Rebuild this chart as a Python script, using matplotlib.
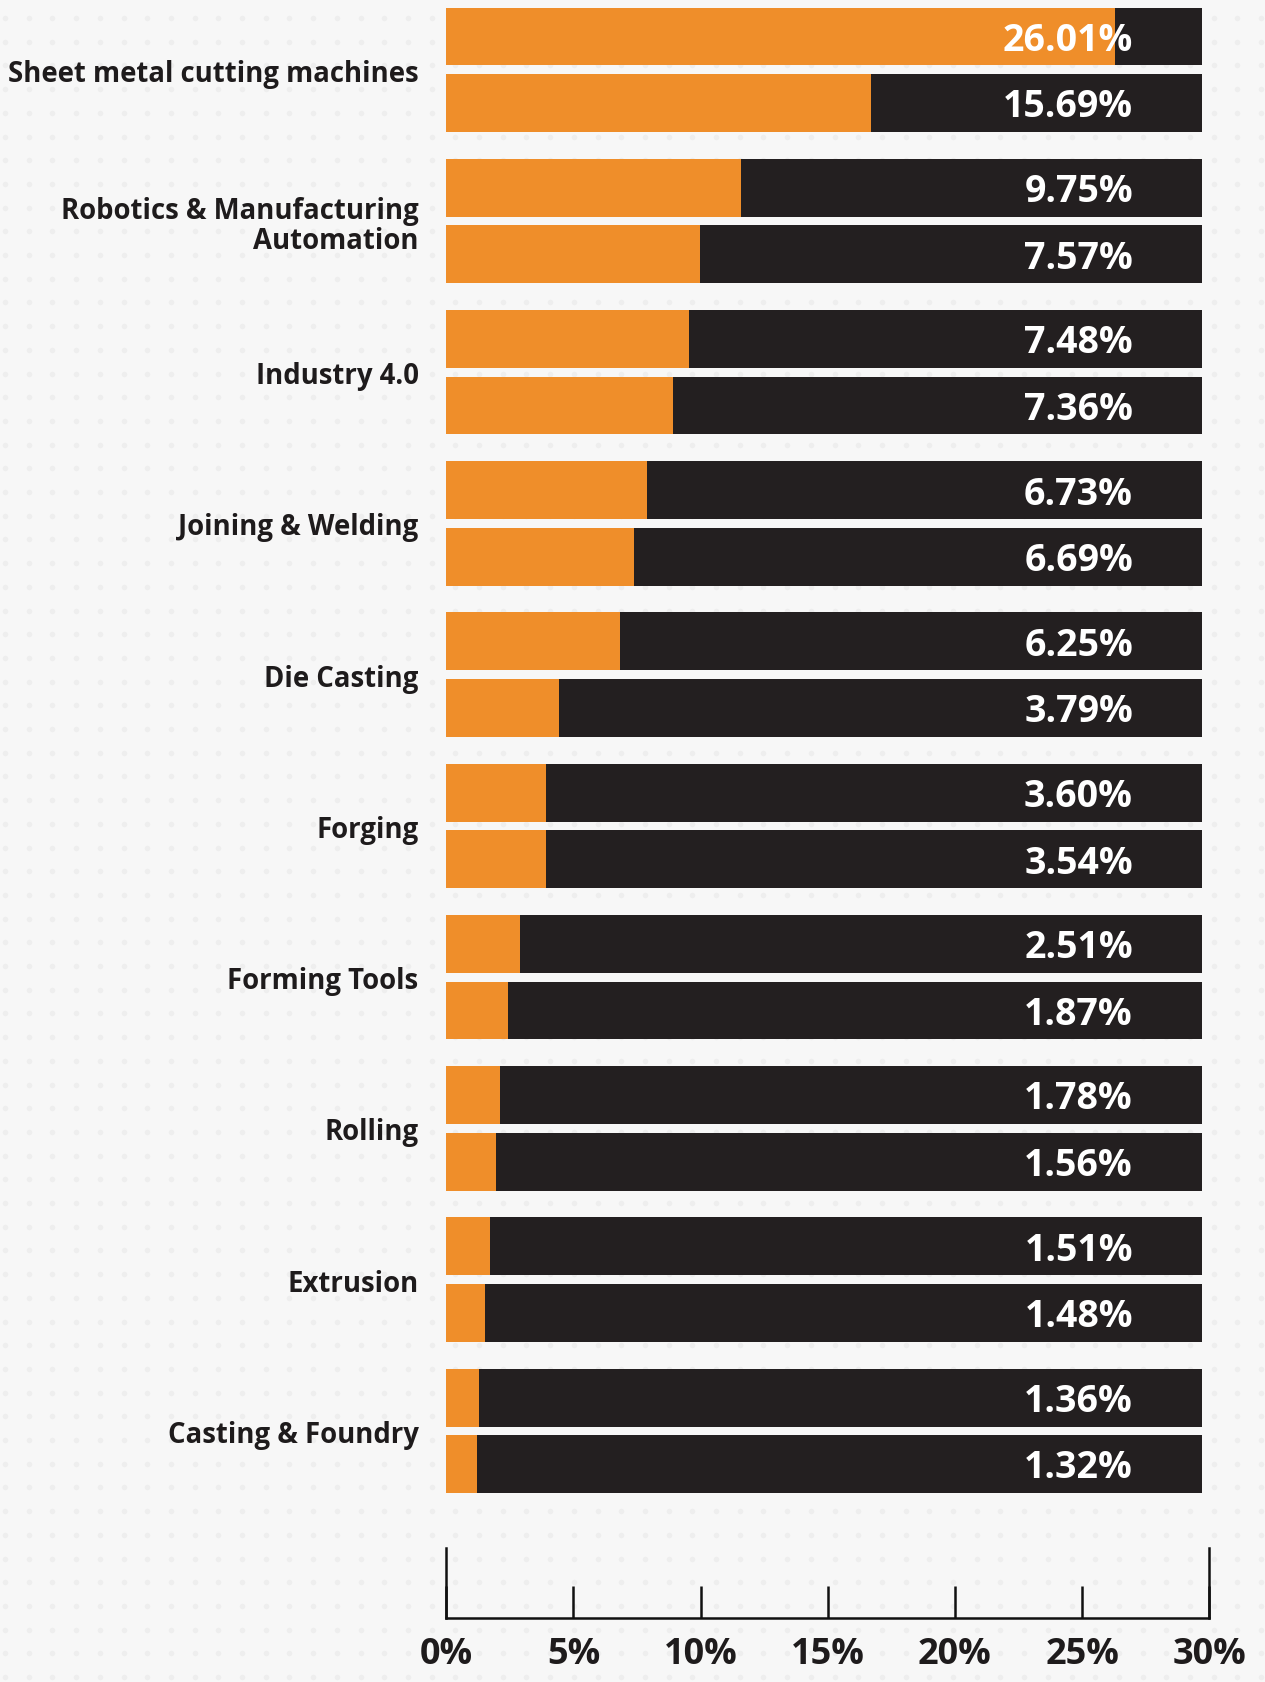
import matplotlib
matplotlib.use("Agg")
import matplotlib.pyplot as plt
import numpy as np

# ---- data ----
categories = [
    "Sheet metal cutting machines",
    "Robotics & Manufacturing\nAutomation",
    "Industry 4.0",
    "Joining & Welding",
    "Die Casting",
    "Forging",
    "Forming Tools",
    "Rolling",
    "Extrusion",
    "Casting & Foundry",
]
# printed values (upper bar, lower bar) per category
values_top = [26.01, 9.75, 7.48, 6.73, 6.25, 3.60, 2.51, 1.78, 1.51, 1.36]
values_bottom = [15.69, 7.57, 7.36, 6.69, 3.79, 3.54, 1.87, 1.56, 1.48, 1.32]
# orange bar lengths as drawn in the picture (in % on the axis scale)
drawn_top = [26.29, 11.60, 9.54, 7.89, 6.84, 3.92, 2.91, 2.11, 1.73, 1.27]
drawn_bottom = [16.71, 9.96, 8.90, 7.38, 4.43, 3.92, 2.41, 1.94, 1.52, 1.20]
track_length = 29.7
x_ticks = [0, 5, 10, 15, 20, 25, 30]
x_tick_labels = ["0%", "5%", "10%", "15%", "20%", "25%", "30%"]

ORANGE = "#EF8E2A"
DARK = "#231F20"
TEXT = "#1E1B1C"
BG = "#F7F7F7"
FONT = ["Open Sans", "DejaVu Sans"]

W, H = 1179.0, 1568.0  # layout reference units

fig = plt.figure(figsize=(12.65, 16.83), dpi=100, facecolor=BG)

# background dot pattern
bg = fig.add_axes([0, 0, 1, 1], zorder=-10)
bg.set_xlim(0, 1265)
bg.set_ylim(0, 1683)
bg.axis("off")
gx, gy = np.meshgrid(np.arange(5, 1265, 23.7), np.arange(5, 1683, 23.7))
bg.scatter(gx.ravel(), gy.ravel(), s=16, color="#EEEEEE", linewidths=0)

# bars axes
ax = fig.add_axes([416 / W, 1 - 1400 / H, 711 / W, 1400 / H])
ax.set_facecolor("none")
ax.set_xlim(0, 30)
ax.set_ylim(9.468, -0.468)
for s in ax.spines.values():
    s.set_visible(False)

n = len(categories)
y = np.arange(n)
off = 0.22
h = 0.383
ax.barh(y - off, [track_length] * n, height=h, color=DARK, zorder=1)
ax.barh(y + off, [track_length] * n, height=h, color=DARK, zorder=1)
ax.barh(y - off, drawn_top, height=h, color=ORANGE, zorder=2)
ax.barh(y + off, drawn_bottom, height=h, color=ORANGE, zorder=2)

dy = 0.022
for i in range(n):
    ax.text(27.0, y[i] - off + dy, f"{values_top[i]:.2f}%", ha="right", va="center",
            color="white", fontsize=27, fontweight="bold", family=FONT, zorder=3)
    ax.text(27.0, y[i] + off + dy, f"{values_bottom[i]:.2f}%", ha="right", va="center",
            color="white", fontsize=27, fontweight="bold", family=FONT, zorder=3)

ax.set_xticks([])
ax.set_yticks(y)
ax.set_yticklabels(categories, fontsize=19.8, fontweight="bold", family=FONT,
                   color=TEXT, linespacing=1.05)
ax.tick_params(axis="y", length=0, pad=20)

# bottom scale axes
sx = fig.add_axes([416 / W, 1 - 1508 / H, 711 / W, 65 / H])
sx.set_facecolor("none")
sx.set_xlim(0, 30)
sx.set_ylim(0, 1)
sx.spines["top"].set_visible(False)
for k in ["left", "right", "bottom"]:
    sx.spines[k].set_linewidth(1.8)
    sx.spines[k].set_color("#111111")
sx.set_yticks([])
sx.set_xticks(x_ticks)
sx.set_xticklabels(x_tick_labels, fontsize=26, fontweight="bold", family=FONT, color=TEXT)
sx.tick_params(axis="x", direction="in", length=23, width=1.8, color="#111111", pad=13)

fig.savefig("out.png", dpi=100, facecolor=BG)
